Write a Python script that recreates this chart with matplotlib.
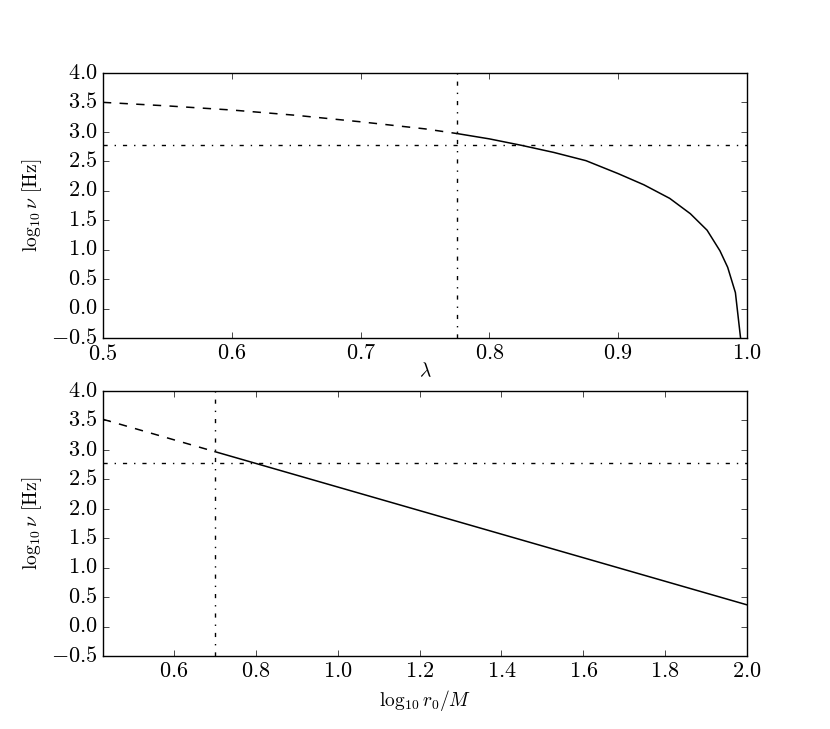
import matplotlib
matplotlib.use('Agg')
import matplotlib.pyplot as plt
import numpy as np

plt.style.use('classic')
plt.rcParams['figure.facecolor'] = 'white'
plt.rcParams['savefig.facecolor'] = 'white'
plt.rcParams['font.family'] = 'serif'
plt.rcParams['font.serif'] = ['cmr10', 'DejaVu Serif']
plt.rcParams['mathtext.fontset'] = 'cm'
plt.rcParams['axes.formatter.use_mathtext'] = True
plt.rcParams['xtick.labelsize'] = 16
plt.rcParams['ytick.labelsize'] = 16

# ---- top panel: nu vs lambda ----
lam_dashed = [0.5, 0.55, 0.6, 0.65, 0.7, 0.75, 0.775]
nu_lam_dashed = [3.50, 3.44, 3.37, 3.28, 3.17, 3.05, 2.97]
lam_solid = [0.775, 0.8, 0.825, 0.85, 0.875, 0.9, 0.92, 0.94, 0.956,
             0.969, 0.979, 0.985, 0.991, 0.995]
nu_lam_solid = [2.97, 2.88, 2.77, 2.65, 2.51, 2.29, 2.10, 1.87, 1.61,
                1.33, 0.98, 0.70, 0.27, -0.5]
lam_cut = 0.775

# ---- bottom panel: nu vs log10 r0/M ----
r_dashed = [0.426, 0.7]
nu_r_dashed = [3.52, 2.97]
r_solid = [0.7, 2.0]
nu_r_solid = [2.97, 0.37]
r_cut = 0.7

nu_obs = 2.78

fig = plt.figure(figsize=(8.3, 7.29), dpi=100)

ax1 = fig.add_subplot(2, 1, 1)
ax1.plot(lam_dashed, nu_lam_dashed, 'k--', lw=1.1)
ax1.plot(lam_solid, nu_lam_solid, 'k-', lw=1.1)
ax1.axvline(lam_cut, color='k', ls='-.', lw=1)
ax1.axhline(nu_obs, color='k', ls='-.', lw=1)
ax1.set_xlim(0.5, 1.0)
ax1.set_ylim(-0.5, 4.0)
ax1.set_xlabel(r'$\lambda$', fontsize=14, labelpad=-1)
ax1.set_ylabel(r'$\log_{10}\nu$ [Hz]', fontsize=14)

ax2 = fig.add_subplot(2, 1, 2)
ax2.plot(r_dashed, nu_r_dashed, 'k--', lw=1.1)
ax2.plot(r_solid, nu_r_solid, 'k-', lw=1.1)
ax2.axvline(r_cut, color='k', ls='-.', lw=1)
ax2.axhline(nu_obs, color='k', ls='-.', lw=1)
ax2.set_xlim(0.426, 2.0)
ax2.set_ylim(-0.5, 4.0)
ax2.set_xticks([0.6, 0.8, 1.0, 1.2, 1.4, 1.6, 1.8, 2.0])
ax2.set_xlabel(r'$\log_{10} r_0/M$', fontsize=14)
ax2.set_ylabel(r'$\log_{10}\nu$ [Hz]', fontsize=14)

plt.subplots_adjust(left=0.124, right=0.9, top=0.9, bottom=0.1, hspace=0.2)
plt.savefig('out.png', dpi=100)
